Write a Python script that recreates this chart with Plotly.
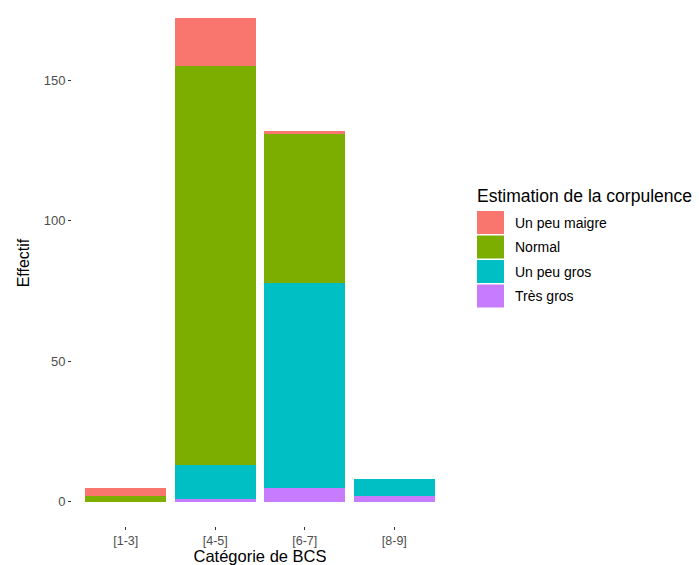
import plotly.graph_objects as go

categories = ["[1-3]", "[4-5]", "[6-7]", "[8-9]"]
tres_gros = [0, 1, 5, 2]
un_peu_gros = [0, 12, 73, 6]
normal = [2, 142, 53, 0]
un_peu_maigre = [3, 17, 1, 0]

series = [
    ("Très gros", tres_gros, "#C77CFF"),
    ("Un peu gros", un_peu_gros, "#00BFC4"),
    ("Normal", normal, "#7CAE00"),
    ("Un peu maigre", un_peu_maigre, "#F8766D"),
]

W, H = 699, 565
L, R, T, B = 72, 448, 0, 526

fig = go.Figure()
for name, vals, col in series:
    fig.add_trace(go.Bar(x=categories, y=vals, name=name, marker_color=col,
                         marker_line_width=0, showlegend=False))

fig.update_layout(
    width=W, height=H, barmode="stack", bargap=0.1,
    plot_bgcolor="white", paper_bgcolor="white",
    margin=dict(l=L, r=W - R, t=T, b=H - B),
    font=dict(family="Liberation Sans, Arial, sans-serif", color="black"),
)
fig.update_xaxes(range=[-0.6, 3.6], showgrid=False, zeroline=False, showline=False,
                 ticks="outside", ticklen=3, tickcolor="#333333",
                 tickfont=dict(size=12.5, color="#4d4d4d"),
                 title=dict(text="Catégorie de BCS", font=dict(size=16.5), standoff=3))
fig.update_yaxes(range=[-8.6, 178.5], showgrid=False, zeroline=False, showline=False,
                 tickvals=[0, 50, 100, 150], ticks="outside", ticklen=3, tickcolor="#333333",
                 tickfont=dict(size=13, color="#4d4d4d"),
                 title=dict(text="Effectif", font=dict(size=16), standoff=10))

# legend drawn manually
def px_x(px):
    return (px - L) / (R - L)

def px_y(py):
    return (B - py) / (B - T)

fig.add_annotation(x=px_x(475), y=px_y(196), xref="paper", yref="paper",
                   text="Estimation de la corpulence", showarrow=False,
                   xanchor="left", yanchor="middle", font=dict(size=17.5, color="black"))
legend_items = list(reversed(series))
for i, (name, vals, col) in enumerate(legend_items):
    top = 211 + i * 24.5
    fig.add_shape(type="rect", xref="paper", yref="paper",
                  x0=px_x(477), x1=px_x(504), y0=px_y(top + 23), y1=px_y(top),
                  fillcolor=col, line_width=0)
    fig.add_annotation(x=px_x(513), y=px_y(top + 11.5), xref="paper", yref="paper",
                       text=name, showarrow=False, xanchor="left", yanchor="middle",
                       font=dict(size=14, color="black"))

fig.write_html("out.html", config={"displayModeBar": False},
               post_script="document.body.style.margin='0';document.body.style.overflow='hidden';")
